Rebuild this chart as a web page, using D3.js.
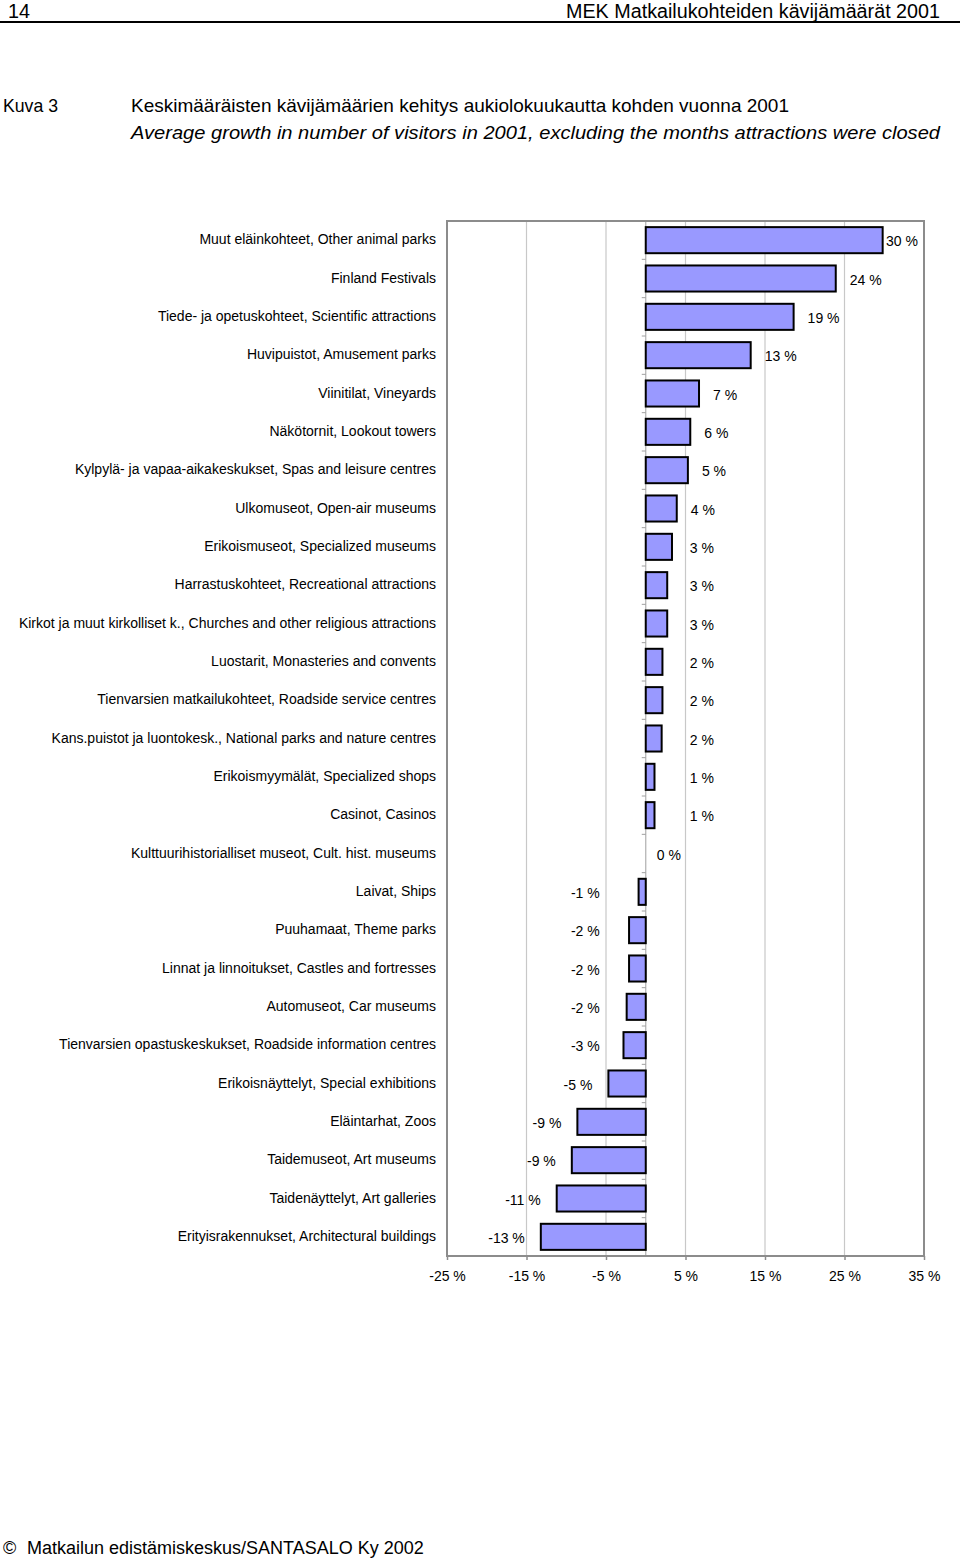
<!DOCTYPE html>
<html><head><meta charset="utf-8">
<script src="https://cdn.jsdelivr.net/npm/d3@7"></script>
<style>
body{margin:0;background:#fff;}
svg{display:block;font-family:"Liberation Sans",Arial,sans-serif;}
</style></head><body>
<svg id="c" width="960" height="1558"></svg>
<script>
const categories = [
 "Muut eläinkohteet, Other animal parks",
 "Finland Festivals",
 "Tiede- ja opetuskohteet, Scientific attractions",
 "Huvipuistot, Amusement parks",
 "Viinitilat, Vineyards",
 "Näkötornit, Lookout towers",
 "Kylpylä- ja vapaa-aikakeskukset, Spas and leisure centres",
 "Ulkomuseot, Open-air museums",
 "Erikoismuseot, Specialized museums",
 "Harrastuskohteet, Recreational attractions",
 "Kirkot ja muut kirkolliset k., Churches and other religious attractions",
 "Luostarit, Monasteries and convents",
 "Tienvarsien matkailukohteet, Roadside service centres",
 "Kans.puistot ja luontokesk., National parks and nature centres",
 "Erikoismyymälät, Specialized shops",
 "Casinot, Casinos",
 "Kulttuurihistorialliset museot, Cult. hist. museums",
 "Laivat, Ships",
 "Puuhamaat, Theme parks",
 "Linnat ja linnoitukset, Castles and fortresses",
 "Automuseot, Car museums",
 "Tienvarsien opastuskeskukset, Roadside information centres",
 "Erikoisnäyttelyt, Special exhibitions",
 "Eläintarhat, Zoos",
 "Taidemuseot, Art museums",
 "Taidenäyttelyt, Art galleries",
 "Erityisrakennukset, Architectural buildings"
];
const values = [29.8, 23.9, 18.6, 13.2, 6.7, 5.6, 5.3, 3.9, 3.3, 2.7, 2.7, 2.1, 2.1, 2.0, 1.1, 1.1, 0,
 -0.9, -2.1, -2.1, -2.4, -2.8, -4.7, -8.6, -9.3, -11.2, -13.2];
const valueLabels = ["30 %","24 %","19 %","13 %","7 %","6 %","5 %","4 %","3 %","3 %","3 %","2 %","2 %","2 %","1 %","1 %","0 %",
 "-1 %","-2 %","-2 %","-2 %","-3 %","-5 %","-9 %","-9 %","-11 %","-13 %"];
const tickValues = [-25, -15, -5, 5, 15, 25, 35];
const tickLabels = ["-25 %","-15 %","-5 %","5 %","15 %","25 %","35 %"];
const headerLeft = "14";
const headerRight = "MEK Matkailukohteiden kävijämäärät 2001";
const figureNo = "Kuva 3";
const titleFi = "Keskimääräisten kävijämäärien kehitys aukiolokuukautta kohden vuonna 2001";
const titleEn = "Average growth in number of visitors in 2001, excluding the months attractions were closed";
const footerMark = "©";
const footer = "Matkailun edistämiskeskus/SANTASALO Ky 2002";

(function(){
const svg = d3.select("#c");
const W = 960;

// Header
const narrow = '"Liberation Sans Narrow","Arial Narrow","Liberation Sans",Arial,sans-serif';
svg.append("text").attr("x",8).attr("y",18).attr("font-size",20).attr("font-family",narrow)
  .attr("textLength",22).attr("lengthAdjust","spacingAndGlyphs").text(headerLeft);
svg.append("text").attr("x",566).attr("y",18).attr("font-size",20).attr("font-family",narrow)
  .attr("textLength",374).attr("lengthAdjust","spacingAndGlyphs").text(headerRight);
svg.append("line").attr("x1",0).attr("x2",W).attr("y1",22).attr("y2",22).attr("stroke","#000").attr("stroke-width",2.2);

svg.append("text").attr("x",3).attr("y",112).attr("font-size",19).attr("font-family",narrow)
  .attr("textLength",55).attr("lengthAdjust","spacingAndGlyphs").text(figureNo);
svg.append("text").attr("x",131).attr("y",112).attr("font-size",19).attr("font-family",narrow)
  .attr("textLength",658).attr("lengthAdjust","spacingAndGlyphs").text(titleFi);
svg.append("text").attr("x",131).attr("y",139).attr("font-size",19).attr("font-family",narrow)
  .attr("font-style","italic")
  .attr("textLength",809).attr("lengthAdjust","spacingAndGlyphs").text(titleEn);

// Chart
const pLeft = 447, pRight = 924, pTop = 221, pBottom = 1256;
const x = d3.scaleLinear().domain([-25, 35]).range([pLeft, pRight]);
const y = d3.scaleBand().domain(categories).range([pTop, pBottom]).paddingInner(0.32).paddingOuter(0.16);
const fs = 14;

// gridlines
svg.append("g").selectAll("line").data(tickValues.slice(1, -1)).join("line")
  .attr("x1", d => x(d)).attr("x2", d => x(d)).attr("y1", pTop).attr("y2", pBottom)
  .attr("stroke", "#c8c8c8").attr("stroke-width", 1.2);

// bottom axis
const xAxis = d3.axisBottom(x).tickValues(tickValues).tickSize(4).tickSizeOuter(0)
  .tickFormat((d, i) => tickLabels[i]);
const gx = svg.append("g").attr("transform", `translate(0,${pBottom})`).call(xAxis);
gx.select(".domain").remove();
gx.selectAll(".tick line").attr("stroke", "#8c8c8c").attr("stroke-width", 1.5);
gx.selectAll(".tick text").attr("font-size", fs).attr("font-family", '"Liberation Sans",Arial,sans-serif')
  .attr("fill", "#000").attr("dy", "0").attr("y", 25);

// zero axis with category ticks
const zero = x(0);
svg.append("line").attr("x1", zero).attr("x2", zero).attr("y1", pTop).attr("y2", pBottom)
  .attr("stroke", "#b0b0b0").attr("stroke-width", 1.2);
const bounds = d3.range(1, categories.length).map(i => pTop + (pBottom - pTop) * i / categories.length);
svg.append("g").selectAll("line").data(bounds).join("line")
  .attr("x1", zero - 4).attr("x2", zero).attr("y1", d => d).attr("y2", d => d)
  .attr("stroke", "#a0a0a0").attr("stroke-width", 1);

// frame
svg.append("rect").attr("x", pLeft).attr("y", pTop).attr("width", pRight - pLeft).attr("height", pBottom - pTop)
  .attr("fill", "none").attr("stroke", "#8c8c8c").attr("stroke-width", 2);

// bars
svg.append("g").selectAll("rect").data(values).join("rect")
  .attr("x", d => d >= 0 ? x(0) : x(d))
  .attr("width", d => Math.abs(x(d) - x(0)))
  .attr("y", (d, i) => y(categories[i]))
  .attr("height", y.bandwidth())
  .attr("fill", d => d === 0 ? "none" : "#9999ff")
  .attr("stroke", d => d === 0 ? "none" : "#000")
  .attr("stroke-width", 2);

// category labels
svg.append("g").selectAll("text").data(categories).join("text")
  .attr("x", 436).attr("y", d => y(d) + y.bandwidth() / 2 + 4)
  .attr("text-anchor", "end").attr("font-size", fs).text(d => d);

// value labels
const lab = svg.append("g").selectAll("text").data(values).join("text")
  .attr("y", (d, i) => y(categories[i]) + y.bandwidth() / 2 + 6)
  .attr("font-size", fs).text((d, i) => valueLabels[i]);
lab.each(function(d) {
  const t = d3.select(this);
  const w = this.getComputedTextLength();
  if (d === 0) {
    t.attr("x", zero + 11);
  } else if (d > 0) {
    let xs = Math.max(x(d) + 14, zero + 44);
    xs = Math.min(xs, pRight - w - 6);
    t.attr("x", xs);
  } else {
    const xe = Math.min(x(d) - 16, zero - 46);
    t.attr("x", xe - w);
  }
});

// footer
svg.append("text").attr("x", 3).attr("y", 1554).attr("font-size", 18).text(footerMark);
svg.append("text").attr("x", 27).attr("y", 1554).attr("font-size", 18).text(footer);
})();
</script>
</body></html>
